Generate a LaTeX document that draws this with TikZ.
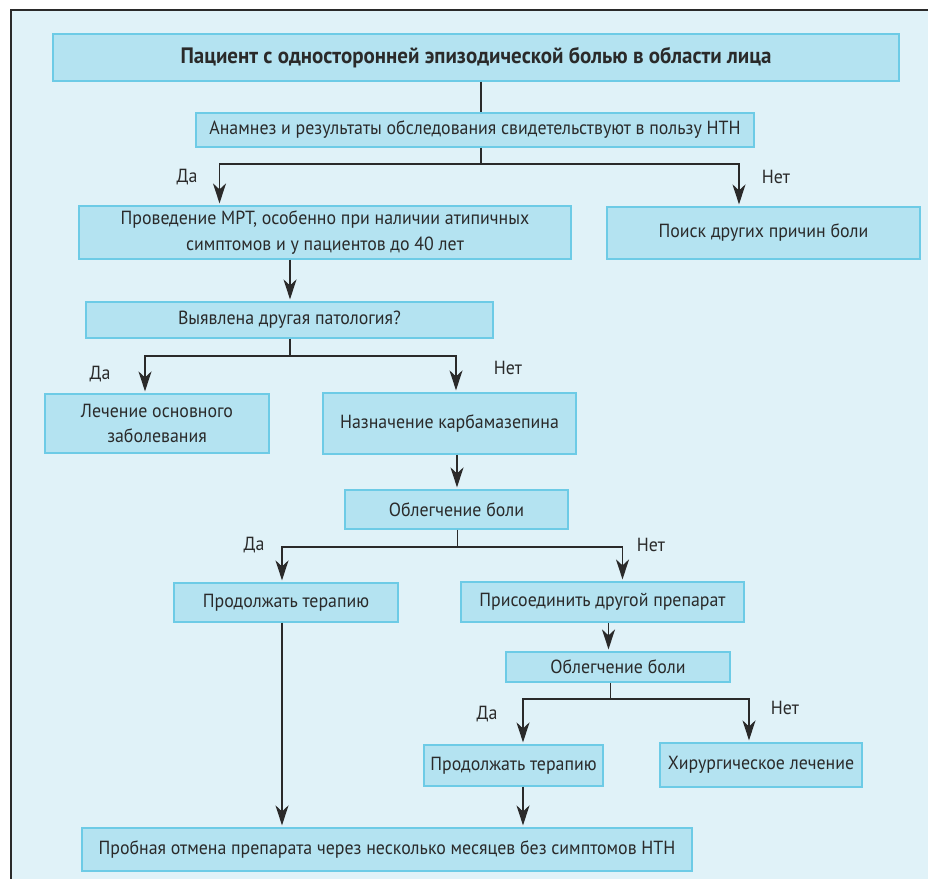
\documentclass[tikz,border=0pt]{standalone}
\usepackage{fontspec}
\setmainfont{PT Sans}[FakeStretch=0.94]
\usetikzlibrary{arrows.meta}
\definecolor{bgc}{HTML}{E0F2F8}
\definecolor{boxc}{HTML}{B4E3F1}
\definecolor{edgec}{HTML}{6DCBE6}
\definecolor{linec}{HTML}{2A2A2A}
\begin{document}
\begin{tikzpicture}[x=1pt,y=-1pt,
  box/.style={draw=edgec, line width=1.2pt, fill=boxc, inner sep=0pt, align=center,
    font=\fontsize{19}{25.5}\selectfont, text=linec},
  conn/.style={draw=linec, line width=1.5pt},
  arr/.style={conn, -{Stealth[length=20pt,width=13pt,inset=6pt]}, shorten >=2pt},
  lbl/.style={font=\fontsize{19}{22}\selectfont, text=linec, inner sep=0pt}]
\useasboundingbox (0,0) rectangle (928,878);
\fill[white] (0,0) rectangle (928,878);
\draw[fill=bgc, draw=linec, line width=1.5pt] (11,10) rectangle (945,895);

% boxes
\node[box, minimum width=846pt, minimum height=47pt] (top) at (476,57.5)
  {\fontsize{22.3}{26}\selectfont\bfseries Пациент с односторонней эпизодической болью в области лица};
\node[box, minimum width=558pt, minimum height=34pt] (anam) at (475,130)
  {Анамнез и результаты обследования свидетельствуют в пользу НТН};
\node[box, minimum width=492pt, minimum height=53pt] (mrt) at (325,232.5)
  {Проведение МРТ, особенно при наличии атипичных\\симптомов и у пациентов до 40 лет};
\node[box, minimum width=313pt, minimum height=52pt] (poisk) at (763.5,233)
  {Поиск других причин боли};
\node[box, minimum width=407pt, minimum height=36pt] (vyyav) at (289.5,320)
  {Выявлена другая патология?};
\node[box, minimum width=224pt, minimum height=59pt] (lech) at (157,423.5)
  {Лечение основного\\заболевания};
\node[box, minimum width=253pt, minimum height=61pt] (naz) at (449.5,423.5)
  {Назначение карбамазепина};
\node[box, minimum width=223pt, minimum height=39pt] (obl1) at (456.5,509.5)
  {Облегчение боли};
\node[box, minimum width=224pt, minimum height=39pt] (prod1) at (286,602.5)
  {Продолжать терапию};
\node[box, minimum width=283pt, minimum height=40pt] (pris) at (602.5,602)
  {Присоединить другой препарат};
\node[box, minimum width=224pt, minimum height=30pt] (obl2) at (618,667)
  {Облегчение боли};
\node[box, minimum width=179pt, minimum height=41pt] (prod2) at (513.5,765.5)
  {Продолжать терапию};
\node[box, minimum width=202pt, minimum height=44pt] (hir) at (761,765)
  {Хирургическое лечение};
\node[box, minimum width=610pt, minimum height=43pt] (prob) at (387,849.5)
  {Пробная отмена препарата через несколько месяцев без симптомов НТН};

% junction coordinates
\coordinate (j1) at (481,164);
\coordinate (a1) at (219.5,164);
\coordinate (b1) at (739,164);
\coordinate (c2) at (290,0);
\coordinate (j3) at (290,356);
\coordinate (a3) at (145,356);
\coordinate (b3) at (456,356);
\coordinate (c4) at (457,0);
\coordinate (j5) at (457.5,547);
\coordinate (a5) at (282,547);
\coordinate (b5) at (622.5,547);
\coordinate (c6) at (608.5,0);
\coordinate (j7) at (610.5,699);
\coordinate (a7) at (523,699);
\coordinate (b7) at (749,699);

% connectors
\draw[conn] (top.south -| j1) -- (anam.north -| j1);
\draw[conn] (anam.south -| j1) -- (j1);
\draw[arr] (j1) -- (a1) -- (mrt.north -| a1);
\draw[arr] (j1) -- (b1) -- (poisk.north -| b1);

\draw[arr] (mrt.south -| c2) -- (vyyav.north -| c2);

\draw[conn] (vyyav.south -| j3) -- (j3);
\draw[arr] (j3) -- (a3) -- (lech.north -| a3);
\draw[arr] (j3) -- (b3) -- (naz.north -| b3);

\draw[arr] (naz.south -| c4) -- (obl1.north -| c4);

\draw[conn] (obl1.south -| j5) -- (j5);
\draw[arr] (j5) -- (a5) -- (prod1.north -| a5);
\draw[arr] (j5) -- (b5) -- (pris.north -| b5);

\draw[arr] (pris.south -| c6) -- (obl2.north -| c6);

\draw[conn] (obl2.south -| j7) -- (j7);
\draw[arr] (j7) -- (a7) -- (prod2.north -| a7);
\draw[arr] (j7) -- (b7) -- (hir.north -| b7);

\draw[arr] (prod1.south -| a5) -- (prob.north -| a5);
\draw[arr] (prod2.south -| a7) -- (prob.north -| a7);

% labels
\node[lbl] (l1) at (187,177) {Да};
\node[lbl] (l2) at (776,177) {Нет};
\node[lbl] (l3) at (100,374) {Да};
\node[lbl] (l4) at (508,368) {Нет};
\node[lbl] (l5) at (254,545) {Да};
\node[lbl] (l6) at (651,545) {Нет};
\node[lbl] (l7) at (487,714) {Да};
\node[lbl] (l8) at (785,708) {Нет};
\end{tikzpicture}
\end{document}
